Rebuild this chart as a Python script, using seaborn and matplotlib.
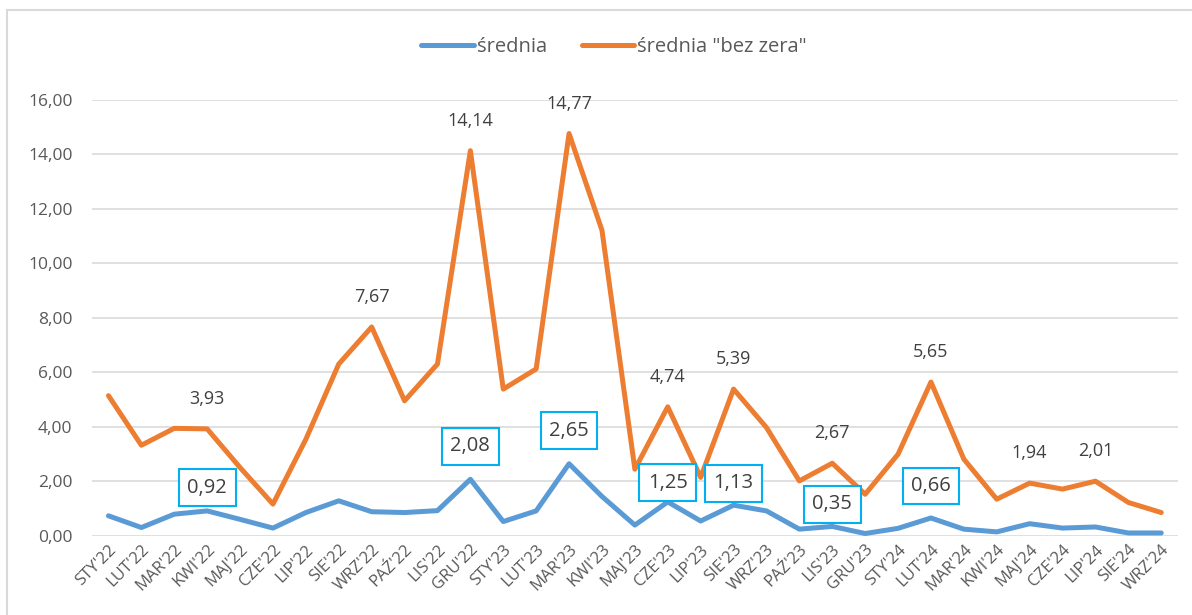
import numpy as np
import pandas as pd
import seaborn as sns
import matplotlib.pyplot as plt
from matplotlib.patches import Rectangle
from matplotlib.ticker import FuncFormatter

# month labels, Jan 2022 - Sep 2024
months = ["STY'22", "LUT'22", "MAR'22", "KWI'22", "MAJ'22", "CZE'22", "LIP'22", "SIE'22",
          "WRZ'22", "PAŹ'22", "LIS'22", "GRU'22", "STY'23", "LUT'23", "MAR'23", "KWI'23",
          "MAJ'23", "CZE'23", "LIP'23", "SIE'23", "WRZ'23", "PAŹ'23", "LIS'23", "GRU'23",
          "STY'24", "LUT'24", "MAR'24", "KWI'24", "MAJ'24", "CZE'24", "LIP'24", "SIE'24",
          "WRZ'24"]

srednia = [0.74, 0.31, 0.80, 0.92, 0.61, 0.29, 0.86, 1.29, 0.89, 0.86, 0.93, 2.08,
           0.53, 0.92, 2.65, 1.45, 0.40, 1.25, 0.55, 1.13, 0.92, 0.25, 0.35, 0.09,
           0.28, 0.66, 0.25, 0.15, 0.45, 0.29, 0.33, 0.11, 0.11]

bez_zera = [5.15, 3.33, 3.95, 3.93, 2.51, 1.17, 3.55, 6.31, 7.67, 4.96, 6.31, 14.14,
            5.39, 6.13, 14.77, 11.22, 2.45, 4.74, 2.15, 5.39, 3.98, 2.02, 2.67, 1.53,
            3.00, 5.65, 2.82, 1.35, 1.94, 1.72, 2.01, 1.23, 0.86]

# which points get a value label (index, offset in px above point)
orange_labels = [3, 8, 11, 14, 17, 19, 22, 25, 28, 30]
blue_labels = [(3, 23), (11, 33), (14, 33), (17, 19), (19, 22), (22, 22), (25, 32)]

df = pd.DataFrame({
    "miesiac": months * 2,
    "wartosc": srednia + bez_zera,
    "seria": ["średnia"] * len(months) + ['średnia "bez zera"'] * len(months),
})

sns.set_theme(style="white")
plt.rcParams["font.family"] = ["Open Sans", "DejaVu Sans"]

fig = plt.figure(figsize=(11.92, 6.15), dpi=100)
ax = fig.add_axes([0.0772, 0.1285, 0.9108, 0.7089])

# chart border (top and left visible)
fig.patches.append(Rectangle((7 / 1192, -0.1), 1.2, 1 - 10 / 615 + 0.1,
                             transform=fig.transFigure, fill=False,
                             edgecolor="#D9D9D9", linewidth=1.5))

sns.lineplot(data=df, x="miesiac", y="wartosc", hue="seria", sort=False,
             palette=["#5B9BD5", "#ED7D31"], linewidth=3.6, ax=ax, legend=True)

ax.set_xlim(-0.5, len(months) - 0.5)
ax.set_ylim(0, 16)
ax.set_yticks(np.arange(0, 17, 2))
ax.yaxis.set_major_formatter(FuncFormatter(lambda v, p: f"{v:.2f}".replace(".", ",")))
ax.grid(axis="y", color="#E0E0E0", linewidth=1.4)
ax.grid(axis="x", visible=False)
for s in ax.spines.values():
    s.set_visible(False)
ax.set_xlabel("")
ax.set_ylabel("")
ax.tick_params(axis="y", labelsize=12.5, labelcolor="#595959", length=0, pad=14)
ax.tick_params(axis="x", labelsize=12, labelcolor="#595959", length=0, pad=4)
plt.setp(ax.get_xticklabels(), rotation=45, ha="right", rotation_mode="anchor")

def fmt(v):
    return f"{v:.2f}".replace(".", ",")

for i in orange_labels:
    ax.annotate(fmt(bez_zera[i]), (months[i], bez_zera[i]), xytext=(0, 21.6),
                textcoords="offset points", ha="center", va="center",
                fontsize=13, color="#404040")

for i, off in blue_labels:
    ax.annotate(fmt(srednia[i]), (months[i], srednia[i]), xytext=(0, off * 0.72),
                textcoords="offset points", ha="center", va="center",
                fontsize=14.5, color="#404040", zorder=5,
                bbox=dict(boxstyle="square,pad=0.42", fc="white", ec="#00B0F0", lw=1.5))

leg = ax.legend(loc="center", bbox_to_anchor=(0.5 - 0.019, 1 + 53 / 436), ncol=2,
                frameon=False, fontsize=14.5, handlelength=2.6, columnspacing=1.75,
                handletextpad=0.15)
for t in leg.get_texts():
    t.set_color("#595959")
for h in leg.get_lines():
    h.set_linewidth(3.6)

fig.savefig("out.png", dpi=100)
